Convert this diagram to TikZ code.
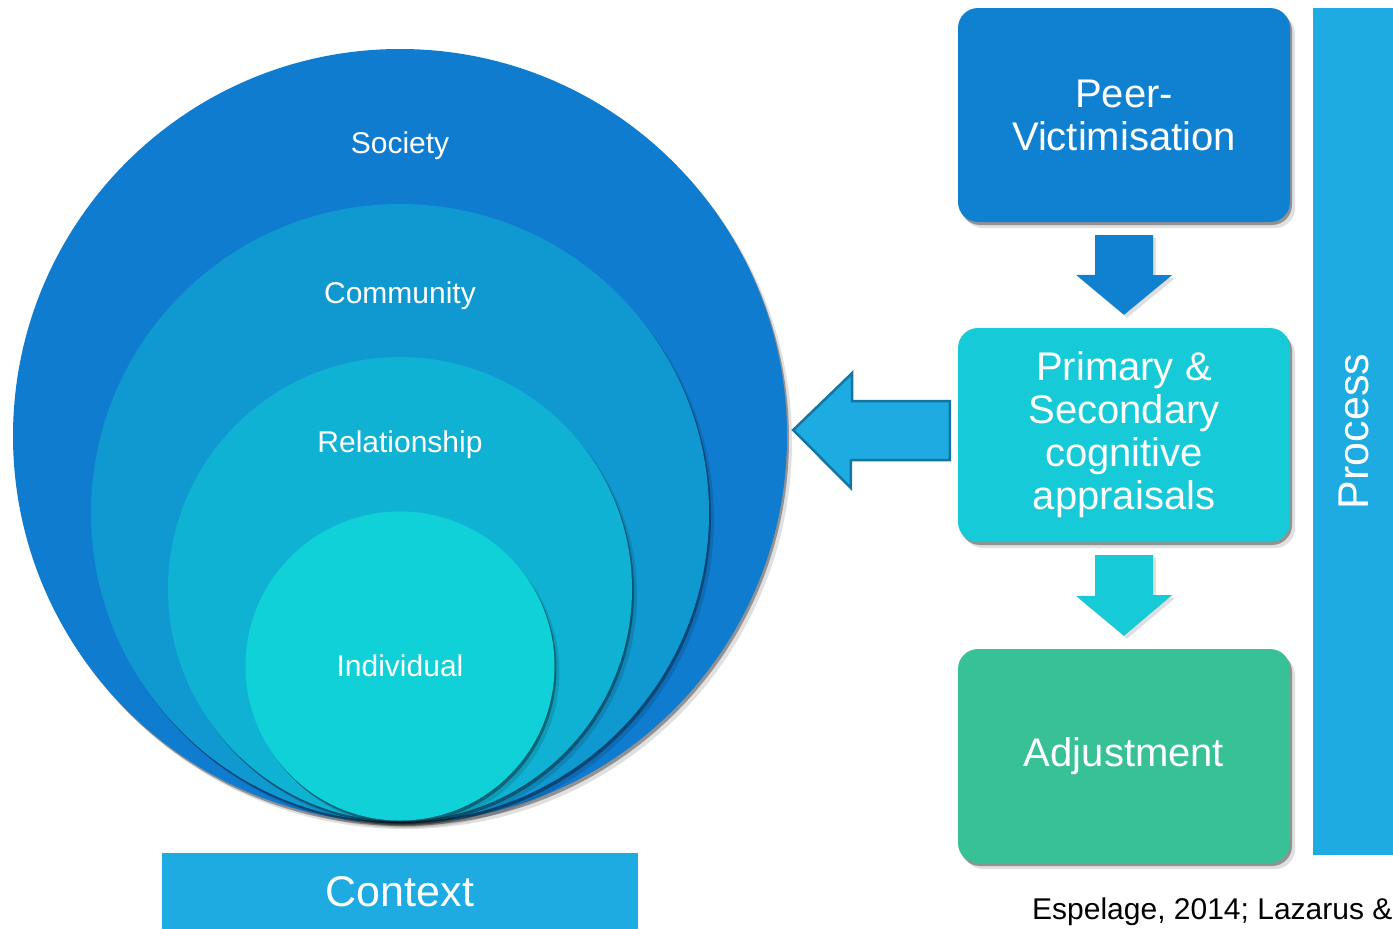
\documentclass[tikz,border=0pt]{standalone}
\usepackage{fontspec}
\setmainfont{Liberation Sans}
\usetikzlibrary{calc,shadows}
\definecolor{society}{RGB}{16,124,208}
\definecolor{community}{RGB}{16,152,208}
\definecolor{relation}{RGB}{16,178,212}
\definecolor{individ}{RGB}{16,208,216}
\definecolor{peerblue}{RGB}{16,128,208}
\definecolor{apprcyan}{RGB}{22,202,216}
\definecolor{adjgreen}{RGB}{56,192,150}
\definecolor{barblue}{RGB}{30,171,226}
\definecolor{arrowedge}{RGB}{20,118,160}
\begin{document}
\begin{tikzpicture}[x=1pt,y=-1pt,
softshadow/.style={drop shadow={shadow xshift=5pt,shadow yshift=-6pt,fill=black,opacity=0.12},drop shadow={shadow xshift=2pt,shadow yshift=-3pt,fill=black,opacity=0.35}},
ring/.style={circle,inner sep=0pt,fill=#1,softshadow},
ringlabel/.style={text=white,inner sep=0pt,font=\fontsize{30}{36}\selectfont},
stage/.style={rectangle,rounded corners=20pt,fill=#1,minimum width=332pt,minimum height=214pt,text=white,align=center,font=\fontsize{40}{43}\selectfont,softshadow},
downarrow/.style={fill=#1,drop shadow={shadow xshift=3pt,shadow yshift=-3pt,opacity=0.25}},
bar/.style={rectangle,fill=barblue,inner sep=0pt}]
\useasboundingbox (0,0) rectangle (1393,929);
\node[ring=society,minimum size=774pt] (soc) at (400,436) {};
\node[ring=community,minimum size=618pt] (com) at (400,513) {};
\node[ring=relation,minimum size=464pt] (rel) at (400,589) {};
\node[ring=individ,minimum size=309pt] (ind) at (400,666) {};
\node[ringlabel] (soclabel) at ($(soc.north)+(0,97)$) {Society};
\node[ringlabel] (comlabel) at ($(com.north)+(0,92)$) {Community};
\node[ringlabel] (rellabel) at ($(rel.north)+(0,88)$) {Relationship};
\node[ringlabel] (indlabel) at (ind.center) {Individual};
\node[bar,minimum width=476pt,minimum height=78pt,text=white,font=\fontsize{43}{50}\selectfont] (context) at (400,892) {Context};
\node[stage=peerblue] (peer) at (1124,115) {Peer-\\Victimisation};
\node[stage=apprcyan] (appr) at (1124,435) {Primary \&\\Secondary\\cognitive\\appraisals};
\node[stage=adjgreen] (adj) at (1124,756) {Adjustment};
\fill[downarrow=peerblue] ($(peer.south)+(-29,13)$) -- ++(58,0) -- ++(0,40) -- ++(19,0) -- ($(appr.north)+(0,-13)$) -- ++(-48,-40) -- ++(19,0) -- cycle;
\fill[downarrow=apprcyan] ($(appr.south)+(-29,13)$) -- ++(58,0) -- ++(0,40) -- ++(19,0) -- ($(adj.north)+(0,-13)$) -- ++(-48,-40) -- ++(19,0) -- cycle;
\coordinate (tip) at ($(soc.east)+(6,-6)$);
\draw[fill=barblue,draw=arrowedge,line width=2.5pt,line join=miter] (tip) -- ++(59,-57) -- ++(0,28) -- ($(appr.west)+(-8,-34)$) -- ++(0,59) -- ++(-99,0) -- ++(0,28) -- cycle;
\node[bar,minimum width=82pt,minimum height=847pt] (process) at (1354,431.5) {};
\node[rotate=90,text=white,font=\fontsize{43}{50}\selectfont] (proclabel) at (process.center) {Process};
\node[anchor=base west,inner sep=0pt,font=\fontsize{30}{35}\selectfont] (cite) at (1032,919) {Espelage, 2014; Lazarus \&};
\end{tikzpicture}
\end{document}
